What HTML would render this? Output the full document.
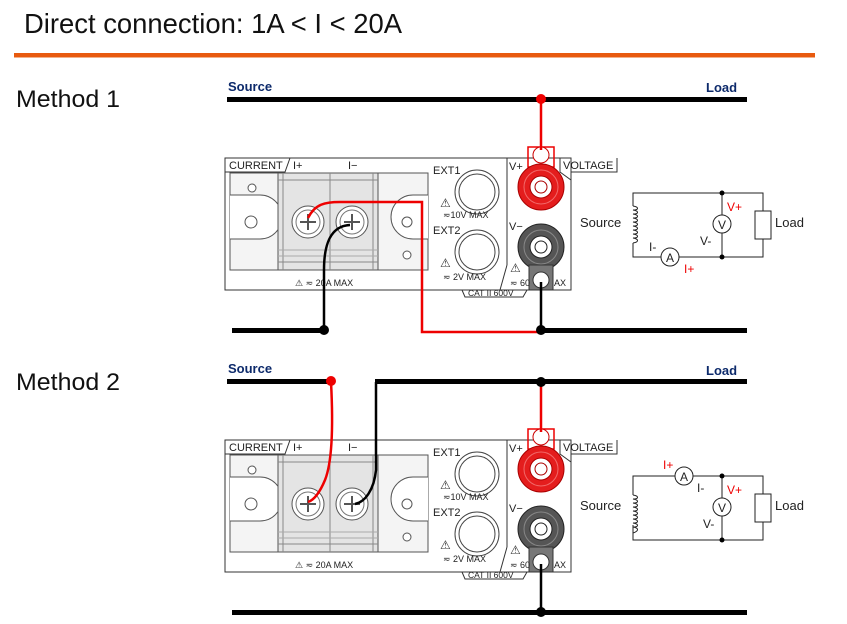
<!DOCTYPE html>
<html><head><meta charset="utf-8"><style>
html,body{margin:0;padding:0;background:#fff}
svg{display:block}
text{font-family:"Liberation Sans",Arial,sans-serif}
</style></head><body>
<svg width="847" height="624" viewBox="0 0 847 624" xmlns="http://www.w3.org/2000/svg">
<defs>
<g id="panel">
  <rect x="225" y="158" width="346" height="132" fill="#fff" stroke="#333" stroke-width="1"/>
  <line x1="507" y1="158" x2="507" y2="265" stroke="#333"/>
  <polyline points="507,265 500,290" fill="none" stroke="#333"/>
  <path d="M225,158 L225,172 L285,172 L290,158" fill="none" stroke="#333"/>
  <text x="229" y="169" font-size="11" fill="#222">CURRENT</text>
  <text x="293" y="169" font-size="11" fill="#222">I+</text>
  <text x="348" y="169" font-size="11" fill="#222">I−</text>
  <path d="M560,158 L560,172 L571,180 L571,172 L617,172 L617,158" fill="none" stroke="#333"/>
  <text x="563" y="169" font-size="11" fill="#222">VOLTAGE</text>
  <text x="509" y="170" font-size="11" fill="#222">V+</text>
  <text x="509" y="230" font-size="11" fill="#222">V−</text>
  <rect x="230" y="173" width="198" height="97" fill="#f4f4f4" stroke="#555"/>
  <path d="M230,195 h30 a22,22 0 0 1 0,44 h-30" fill="#fff" stroke="#555"/>
  <circle cx="252" cy="188" r="4" fill="#fff" stroke="#555"/>
  <circle cx="251" cy="222" r="6" fill="#fff" stroke="#555"/>
  <rect x="278" y="173" width="100" height="97" fill="#e4e4e4" stroke="#555"/>
  <line x1="283" y1="173" x2="283" y2="270" stroke="#888"/>
  <line x1="373" y1="173" x2="373" y2="270" stroke="#888"/>
  <line x1="330" y1="173" x2="330" y2="270" stroke="#888"/>
  <line x1="278" y1="180" x2="378" y2="180" stroke="#888"/>
  <line x1="278" y1="262" x2="378" y2="262" stroke="#888"/>
  <line x1="278" y1="250" x2="378" y2="250" stroke="#aaa"/>
  <line x1="278" y1="256" x2="378" y2="256" stroke="#aaa"/>
  <circle cx="308" cy="222" r="16" fill="#fff" stroke="#555"/>
  <circle cx="308" cy="222" r="12" fill="#fff" stroke="#777"/>
  <path d="M300,222 h16 M308,214 v16" stroke="#555" stroke-width="2"/>
  <circle cx="352" cy="222" r="16" fill="#fff" stroke="#555"/>
  <circle cx="352" cy="222" r="12" fill="#fff" stroke="#777"/>
  <path d="M344,222 h16 M352,214 v16" stroke="#555" stroke-width="2"/>
  <path d="M428,195 h-15 a22,22 0 0 0 0,44 h15" fill="#fff" stroke="#555"/>
  <circle cx="407" cy="222" r="5" fill="#fff" stroke="#555"/>
  <circle cx="407" cy="255" r="4" fill="#fff" stroke="#555"/>
  <text x="295" y="286" font-size="9" fill="#222">⚠ ≂ 20A MAX</text>
  <text x="433" y="174" font-size="11" fill="#222">EXT1</text>
  <circle cx="477" cy="192" r="22" fill="#fff" stroke="#444"/>
  <circle cx="477" cy="192" r="18" fill="#fff" stroke="#444"/>
  <text x="440" y="207" font-size="12" fill="#333">⚠</text>
  <text x="443" y="218" font-size="9" fill="#222">≂10V MAX</text>
  <text x="433" y="234" font-size="11" fill="#222">EXT2</text>
  <circle cx="477" cy="252" r="22" fill="#fff" stroke="#444"/>
  <circle cx="477" cy="252" r="18" fill="#fff" stroke="#444"/>
  <text x="440" y="267" font-size="12" fill="#333">⚠</text>
  <text x="443" y="280" font-size="9" fill="#222">≂ 2V MAX</text>
  <path d="M462,290 L465,297 L523,297 L527,290" fill="none" stroke="#333"/>
  <text x="468" y="296" font-size="8.5" fill="#222">CAT II  600V</text>
  <rect x="528" y="147" width="26" height="20" fill="none" stroke="#e00" stroke-width="1.5"/>
  <circle cx="541" cy="187" r="23" fill="#e41d1d" stroke="#a00"/>
  <circle cx="541" cy="187" r="17" fill="none" stroke="#f26a6a"/>
  <circle cx="541" cy="187" r="11" fill="#fff" stroke="#a00"/>
  <circle cx="541" cy="187" r="6" fill="#fff" stroke="#a00"/>
  <circle cx="541" cy="155" r="8" fill="#fff" stroke="#c00"/>
  <circle cx="541" cy="247" r="23" fill="#555" stroke="#222"/>
  <circle cx="541" cy="247" r="17" fill="none" stroke="#888"/>
  <circle cx="541" cy="247" r="11" fill="#fff" stroke="#222"/>
  <circle cx="541" cy="247" r="6" fill="#fff" stroke="#222"/>
  <rect x="529" y="265" width="24" height="25" fill="#777" stroke="#333"/>
  <circle cx="541" cy="280" r="8" fill="#fff" stroke="#333"/>
  <text x="510" y="272" font-size="12" fill="#333">⚠</text>
  <text x="510" y="286" font-size="9" fill="#222">≂ 60</text>
  <text x="554" y="286" font-size="9" fill="#222">AX</text>
</g>
</defs>

<text x="24" y="33" font-size="28" fill="#111" font-family="DejaVu Sans,sans-serif" textLength="378" lengthAdjust="spacingAndGlyphs">Direct connection: 1A &lt; I &lt; 20A</text>
<rect x="14" y="53" width="801" height="4" fill="#e85a0f"/>
<rect x="14" y="57" width="801" height="1" fill="#f3b08a"/>

<text x="16" y="107" font-size="24" fill="#111" font-family="DejaVu Sans,sans-serif" textLength="104" lengthAdjust="spacingAndGlyphs">Method 1</text>
<text x="16" y="390" font-size="24" fill="#111" font-family="DejaVu Sans,sans-serif" textLength="104" lengthAdjust="spacingAndGlyphs">Method 2</text>

<text x="228" y="91" font-size="13" font-weight="bold" fill="#0d2a6b">Source</text>
<text x="706" y="92" font-size="13" font-weight="bold" fill="#0d2a6b">Load</text>
<rect x="227" y="97" width="520" height="5" fill="#000"/>
<use href="#panel"/>
<line x1="541" y1="100" x2="541" y2="150" stroke="#e00" stroke-width="2.5"/>
<circle cx="541" cy="99" r="5" fill="#e00"/>
<rect x="232" y="328" width="92" height="5" fill="#000"/>
<rect x="541" y="328" width="206" height="5" fill="#000"/>
<path d="M308,218 C315,204 325,202 340,202 L422,202 L422,332 L541,332" fill="none" stroke="#e00" stroke-width="2.5"/>
<path d="M350,225 C330,226 324,245 324,270 L324,330" fill="none" stroke="#000" stroke-width="2.5"/>
<line x1="541" y1="282" x2="541" y2="330" stroke="#000" stroke-width="2.5"/>
<circle cx="324" cy="330" r="5" fill="#000"/>
<circle cx="541" cy="330" r="5" fill="#000"/>

<g stroke="#222" stroke-width="1" fill="none">
  <polyline points="633,206 633,193 763,193 763,211"/>
  <rect x="755" y="211" width="16" height="28" fill="#fff"/>
  <polyline points="763,239 763,257 679,257"/>
  <polyline points="661,257 633,257 633,243"/>
  <path d="M633,206 c6,1 6,4 0,4 c6,1 6,4 0,4 c6,1 6,4 0,4 c6,1 6,4 0,4 c6,1 6,4 0,4 c6,1 6,4 0,4 c6,1 6,4 0,4 c6,1 6,4 0,4 c6,1 6,4 0,5"/>
  <line x1="722" y1="193" x2="722" y2="215"/>
  <line x1="722" y1="233" x2="722" y2="257"/>
  <circle cx="670" cy="257" r="9" fill="#fff"/>
  <circle cx="722" cy="224" r="9" fill="#fff"/>
</g>
<circle cx="722" cy="193" r="2.5" fill="#000"/><circle cx="722" cy="257" r="2.5" fill="#000"/>
<text x="670" y="262" font-size="12" text-anchor="middle" fill="#222">A</text>
<text x="722" y="229" font-size="12" text-anchor="middle" fill="#222">V</text>
<text x="580" y="227" font-size="13" fill="#222">Source</text>
<text x="775" y="227" font-size="13" fill="#222">Load</text>
<text x="649" y="251" font-size="12" fill="#222">I-</text>
<text x="684" y="273" font-size="12" fill="#e00">I+</text>
<text x="727" y="211" font-size="12" fill="#e00">V+</text>
<text x="700" y="245" font-size="12" fill="#222">V-</text>

<text x="228" y="373" font-size="13" font-weight="bold" fill="#0d2a6b">Source</text>
<text x="706" y="375" font-size="13" font-weight="bold" fill="#0d2a6b">Load</text>
<rect x="227" y="379" width="104" height="5" fill="#000"/>
<rect x="375" y="379" width="372" height="5" fill="#000"/>
<g transform="translate(0,282)"><use href="#panel"/></g>
<line x1="541" y1="382" x2="541" y2="432" stroke="#e00" stroke-width="2.5"/>
<path d="M331,382 C333,420 333,460 325,480 C320,492 314,500 308,502" fill="none" stroke="#e00" stroke-width="2.5"/>
<path d="M376,382 L376,470 C374,490 365,502 355,504" fill="none" stroke="#000" stroke-width="2.5"/>
<circle cx="331" cy="381" r="5" fill="#e00"/>
<circle cx="541" cy="382" r="5" fill="#000"/>
<rect x="232" y="610" width="515" height="5" fill="#000"/>
<line x1="541" y1="564" x2="541" y2="612" stroke="#000" stroke-width="2.5"/>
<circle cx="541" cy="612" r="5" fill="#000"/>

<g stroke="#222" stroke-width="1" fill="none">
  <polyline points="633,495 633,476 675,476"/>
  <polyline points="693,476 763,476 763,494"/>
  <rect x="755" y="494" width="16" height="28" fill="#fff"/>
  <polyline points="763,522 763,540 633,540 633,525"/>
  <path d="M633,495 c6,1 6,4 0,4 c6,1 6,4 0,4 c6,1 6,4 0,4 c6,1 6,4 0,4 c6,1 6,4 0,4 c6,1 6,4 0,4 c6,1 6,4 0,4 c6,1 6,4 0,4 c6,1 6,4 0,6"/>
  <line x1="722" y1="476" x2="722" y2="498"/>
  <line x1="722" y1="516" x2="722" y2="540"/>
  <circle cx="684" cy="476" r="9" fill="#fff"/>
  <circle cx="722" cy="507" r="9" fill="#fff"/>
</g>
<circle cx="722" cy="476" r="2.5" fill="#000"/><circle cx="722" cy="540" r="2.5" fill="#000"/>
<text x="684" y="481" font-size="12" text-anchor="middle" fill="#222">A</text>
<text x="722" y="512" font-size="12" text-anchor="middle" fill="#222">V</text>
<text x="580" y="510" font-size="13" fill="#222">Source</text>
<text x="775" y="510" font-size="13" fill="#222">Load</text>
<text x="663" y="469" font-size="12" fill="#e00">I+</text>
<text x="697" y="492" font-size="12" fill="#222">I-</text>
<text x="727" y="494" font-size="12" fill="#e00">V+</text>
<text x="703" y="528" font-size="12" fill="#222">V-</text>
</svg>
</body></html>
